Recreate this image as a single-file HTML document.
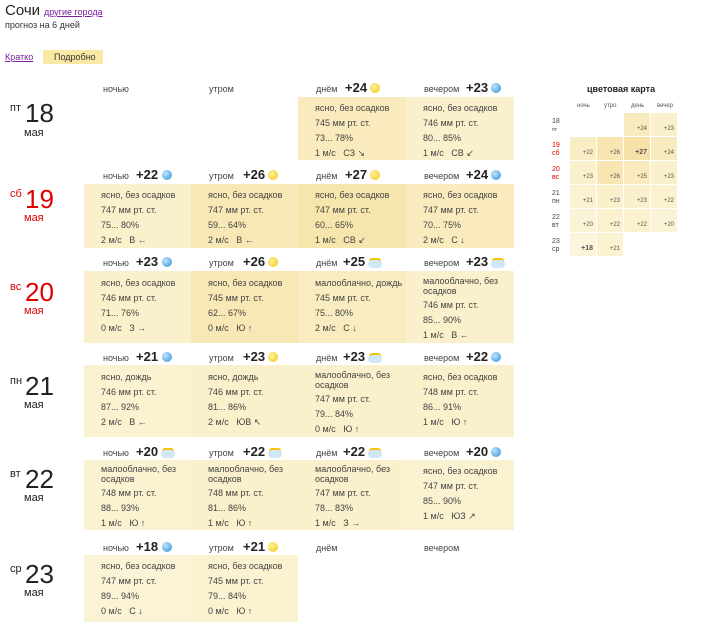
<!DOCTYPE html>
<html><head><meta charset="utf-8"><style>
body{margin:0;background:#fff;font-family:"Liberation Sans","DejaVu Sans",sans-serif;color:#333;}
#r{position:relative;width:707px;height:640px;overflow:hidden}
.a{position:absolute;white-space:nowrap}
.p{position:absolute}
.s{font-size:9px;color:#444}
.h{font-size:9px;color:#444}
.t{font-size:13px;font-weight:bold;color:#222}
.ic{position:absolute;width:10px;height:10px;border-radius:50%}
.sun{background:radial-gradient(circle at 40% 40%,#fff3a0,#f5c400)}
.moon{background:radial-gradient(circle at 35% 35%,#bfe4ff,#2b8fd6)}
.cl{width:14px;height:8px;border-radius:6px;background:#cfe7f7;box-shadow:0 -3px 0 -1px #f5c400}
.dn{font-size:26px;color:#222}
.dw{font-size:11px;color:#222}
.red{color:#e00000}
.mc{position:absolute;width:26px;height:23px}
.mt{font-size:6px;color:#555;position:absolute;right:3px;bottom:4px}
</style></head><body><div id="r">
<div class="a" style="left:5px;top:2px;font-size:15px;color:#222">Сочи</div>
<div class="a" style="left:44px;top:7px;font-size:9px;color:#7a1fa0;text-decoration:underline">другие города</div>
<div class="a" style="left:5px;top:20px;font-size:9px;color:#333">прогноз на 6 дней</div>
<div class="a" style="left:5px;top:52px;font-size:9px;color:#7a1fa0;text-decoration:underline">Кратко</div>
<div class="p" style="left:43px;top:50px;width:60px;height:14px;background:#fae8a5"></div>
<div class="a" style="left:54px;top:52px;font-size:9px;color:#333">Подробно</div>

<div class="p" style="left:298px;top:97px;width:108px;height:63px;background:#f9ebbd"></div>
<div class="p" style="left:406px;top:97px;width:108px;height:63px;background:#faf0cc"></div>

<div class="p" style="left:84px;top:184px;width:107px;height:64px;background:#faf0cc"></div>
<div class="p" style="left:191px;top:184px;width:107px;height:64px;background:#f8e8b6"></div>
<div class="p" style="left:298px;top:184px;width:108px;height:64px;background:#f7e5ae"></div>
<div class="p" style="left:406px;top:184px;width:108px;height:64px;background:#f9ebbd"></div>

<div class="p" style="left:84px;top:271px;width:107px;height:72px;background:#faf0cc"></div>
<div class="p" style="left:191px;top:271px;width:107px;height:72px;background:#f8e8b6"></div>
<div class="p" style="left:298px;top:271px;width:108px;height:72px;background:#f9ecc0"></div>
<div class="p" style="left:406px;top:271px;width:108px;height:72px;background:#faf0cc"></div>

<div class="p" style="left:84px;top:365px;width:107px;height:72px;background:#fbf2d2"></div>
<div class="p" style="left:191px;top:365px;width:107px;height:72px;background:#faf0cc"></div>
<div class="p" style="left:298px;top:365px;width:108px;height:72px;background:#faf0cc"></div>
<div class="p" style="left:406px;top:365px;width:108px;height:72px;background:#faf0cc"></div>

<div class="p" style="left:84px;top:460px;width:107px;height:70px;background:#fbf2d2"></div>
<div class="p" style="left:191px;top:460px;width:107px;height:70px;background:#faf0cc"></div>
<div class="p" style="left:298px;top:460px;width:108px;height:70px;background:#faf0cc"></div>
<div class="p" style="left:406px;top:460px;width:108px;height:70px;background:#fbf2d2"></div>

<div class="p" style="left:84px;top:555px;width:107px;height:67px;background:#fbf3d6"></div>
<div class="p" style="left:191px;top:555px;width:107px;height:67px;background:#fbf2d2"></div>

<div class="a dw" style="left:10px;top:102px">пт</div><div class="a dn" style="left:25px;top:98px">18</div><div class="a dw" style="left:24px;top:127px">мая</div>
<div class="a dw red" style="left:10px;top:188px">сб</div><div class="a dn red" style="left:25px;top:184px">19</div><div class="a dw red" style="left:24px;top:212px">мая</div>
<div class="a dw red" style="left:10px;top:281px">вс</div><div class="a dn red" style="left:25px;top:277px">20</div><div class="a dw red" style="left:24px;top:305px">мая</div>
<div class="a dw" style="left:10px;top:375px">пн</div><div class="a dn" style="left:25px;top:371px">21</div><div class="a dw" style="left:24px;top:399px">мая</div>
<div class="a dw" style="left:10px;top:468px">вт</div><div class="a dn" style="left:25px;top:464px">22</div><div class="a dw" style="left:24px;top:492px">мая</div>
<div class="a dw" style="left:10px;top:563px">ср</div><div class="a dn" style="left:25px;top:559px">23</div><div class="a dw" style="left:24px;top:587px">мая</div>

<div class="a h" style="left:103px;top:84px">ночью</div>
<div class="a h" style="left:209px;top:84px">утром</div>
<div class="a h" style="left:316px;top:84px">днём</div><div class="a t" style="left:345px;top:80px">+24</div><div class="ic sun" style="left:370px;top:83px"></div>
<div class="a h" style="left:424px;top:84px">вечером</div><div class="a t" style="left:466px;top:80px">+23</div><div class="ic moon" style="left:491px;top:83px"></div>
<div class="a s" style="left:315px;top:101px;line-height:15px">ясно, без осадков<br>745 мм рт. ст.<br>73... 78%<br>1 м/с&nbsp;&nbsp; СЗ ↘</div>
<div class="a s" style="left:423px;top:101px;line-height:15px">ясно, без осадков<br>746 мм рт. ст.<br>80... 85%<br>1 м/с&nbsp;&nbsp; СВ ↙</div>

<div class="a h" style="left:103px;top:171px">ночью</div><div class="a t" style="left:136px;top:167px">+22</div><div class="ic moon" style="left:162px;top:170px"></div>
<div class="a h" style="left:209px;top:171px">утром</div><div class="a t" style="left:243px;top:167px">+26</div><div class="ic sun" style="left:268px;top:170px"></div>
<div class="a h" style="left:316px;top:171px">днём</div><div class="a t" style="left:345px;top:167px">+27</div><div class="ic sun" style="left:370px;top:170px"></div>
<div class="a h" style="left:424px;top:171px">вечером</div><div class="a t" style="left:466px;top:167px">+24</div><div class="ic moon" style="left:491px;top:170px"></div>
<div class="a s" style="left:101px;top:188px;line-height:15px">ясно, без осадков<br>747 мм рт. ст.<br>75... 80%<br>2 м/с&nbsp;&nbsp; В ←</div>
<div class="a s" style="left:208px;top:188px;line-height:15px">ясно, без осадков<br>747 мм рт. ст.<br>59... 64%<br>2 м/с&nbsp;&nbsp; В ←</div>
<div class="a s" style="left:315px;top:188px;line-height:15px">ясно, без осадков<br>747 мм рт. ст.<br>60... 65%<br>1 м/с&nbsp;&nbsp; СВ ↙</div>
<div class="a s" style="left:423px;top:188px;line-height:15px">ясно, без осадков<br>747 мм рт. ст.<br>70... 75%<br>2 м/с&nbsp;&nbsp; С ↓</div>

<div class="a h" style="left:103px;top:258px">ночью</div><div class="a t" style="left:136px;top:254px">+23</div><div class="ic moon" style="left:162px;top:257px"></div>
<div class="a h" style="left:209px;top:258px">утром</div><div class="a t" style="left:243px;top:254px">+26</div><div class="ic sun" style="left:268px;top:257px"></div>
<div class="a h" style="left:316px;top:258px">днём</div><div class="a t" style="left:343px;top:254px">+25</div><div class="ic cl" style="left:368px;top:260px"></div>
<div class="a h" style="left:424px;top:258px">вечером</div><div class="a t" style="left:466px;top:254px">+23</div><div class="ic cl" style="left:491px;top:260px"></div>
<div class="a s" style="left:101px;top:276px;line-height:15px">ясно, без осадков<br>746 мм рт. ст.<br>71... 76%<br>0 м/с&nbsp;&nbsp; З →</div>
<div class="a s" style="left:208px;top:276px;line-height:15px">ясно, без осадков<br>745 мм рт. ст.<br>62... 67%<br>0 м/с&nbsp;&nbsp; Ю ↑</div>
<div class="a s" style="left:315px;top:276px;line-height:15px">малооблачно, дождь<br>745 мм рт. ст.<br>75... 80%<br>2 м/с&nbsp;&nbsp; С ↓</div>
<div class="a s" style="left:423px;top:276px;line-height:10px">малооблачно, без<br>осадков</div>
<div class="a s" style="left:423px;top:298px;line-height:15px">746 мм рт. ст.<br>85... 90%<br>1 м/с&nbsp;&nbsp; В ←</div>

<div class="a h" style="left:103px;top:353px">ночью</div><div class="a t" style="left:136px;top:349px">+21</div><div class="ic moon" style="left:162px;top:352px"></div>
<div class="a h" style="left:209px;top:353px">утром</div><div class="a t" style="left:243px;top:349px">+23</div><div class="ic sun" style="left:268px;top:352px"></div>
<div class="a h" style="left:316px;top:353px">днём</div><div class="a t" style="left:343px;top:349px">+23</div><div class="ic cl" style="left:368px;top:355px"></div>
<div class="a h" style="left:424px;top:353px">вечером</div><div class="a t" style="left:466px;top:349px">+22</div><div class="ic moon" style="left:491px;top:352px"></div>
<div class="a s" style="left:101px;top:370px;line-height:15px">ясно, дождь<br>746 мм рт. ст.<br>87... 92%<br>2 м/с&nbsp;&nbsp; В ←</div>
<div class="a s" style="left:208px;top:370px;line-height:15px">ясно, дождь<br>746 мм рт. ст.<br>81... 86%<br>2 м/с&nbsp;&nbsp; ЮВ ↖</div>
<div class="a s" style="left:315px;top:370px;line-height:10px">малооблачно, без<br>осадков</div>
<div class="a s" style="left:315px;top:392px;line-height:15px">747 мм рт. ст.<br>79... 84%<br>0 м/с&nbsp;&nbsp; Ю ↑</div>
<div class="a s" style="left:423px;top:370px;line-height:15px">ясно, без осадков<br>748 мм рт. ст.<br>86... 91%<br>1 м/с&nbsp;&nbsp; Ю ↑</div>

<div class="a h" style="left:103px;top:448px">ночью</div><div class="a t" style="left:136px;top:444px">+20</div><div class="ic cl" style="left:161px;top:450px"></div>
<div class="a h" style="left:209px;top:448px">утром</div><div class="a t" style="left:243px;top:444px">+22</div><div class="ic cl" style="left:268px;top:450px"></div>
<div class="a h" style="left:316px;top:448px">днём</div><div class="a t" style="left:343px;top:444px">+22</div><div class="ic cl" style="left:368px;top:450px"></div>
<div class="a h" style="left:424px;top:448px">вечером</div><div class="a t" style="left:466px;top:444px">+20</div><div class="ic moon" style="left:491px;top:447px"></div>
<div class="a s" style="left:101px;top:464px;line-height:10px">малооблачно, без<br>осадков</div>
<div class="a s" style="left:101px;top:486px;line-height:15px">748 мм рт. ст.<br>88... 93%<br>1 м/с&nbsp;&nbsp; Ю ↑</div>
<div class="a s" style="left:208px;top:464px;line-height:10px">малооблачно, без<br>осадков</div>
<div class="a s" style="left:208px;top:486px;line-height:15px">748 мм рт. ст.<br>81... 86%<br>1 м/с&nbsp;&nbsp; Ю ↑</div>
<div class="a s" style="left:315px;top:464px;line-height:10px">малооблачно, без<br>осадков</div>
<div class="a s" style="left:315px;top:486px;line-height:15px">747 мм рт. ст.<br>78... 83%<br>1 м/с&nbsp;&nbsp; З →</div>
<div class="a s" style="left:423px;top:464px;line-height:15px">ясно, без осадков<br>747 мм рт. ст.<br>85... 90%<br>1 м/с&nbsp;&nbsp; ЮЗ ↗</div>

<div class="a h" style="left:103px;top:543px">ночью</div><div class="a t" style="left:136px;top:539px">+18</div><div class="ic moon" style="left:162px;top:542px"></div>
<div class="a h" style="left:209px;top:543px">утром</div><div class="a t" style="left:243px;top:539px">+21</div><div class="ic sun" style="left:268px;top:542px"></div>
<div class="a h" style="left:316px;top:543px">днём</div>
<div class="a h" style="left:424px;top:543px">вечером</div>
<div class="a s" style="left:101px;top:559px;line-height:15px">ясно, без осадков<br>747 мм рт. ст.<br>89... 94%<br>0 м/с&nbsp;&nbsp; С ↓</div>
<div class="a s" style="left:208px;top:559px;line-height:15px">ясно, без осадков<br>745 мм рт. ст.<br>79... 84%<br>0 м/с&nbsp;&nbsp; Ю ↑</div>

<div class="a" style="left:587px;top:84px;font-size:9px;font-weight:bold;color:#222">цветовая карта</div>
<div class="a" style="left:577px;top:103px;font-size:6px;color:#555">ночь</div>
<div class="a" style="left:604px;top:103px;font-size:6px;color:#555">утро</div>
<div class="a" style="left:631px;top:103px;font-size:6px;color:#555">день</div>
<div class="a" style="left:657px;top:103px;font-size:6px;color:#555">вечер</div>
<div class="a" style="left:552px;top:118px;font-size:7px;color:#444;line-height:8px">18<br><span style="font-size:5px">пт</span></div>
<div class="a" style="left:552px;top:142px;font-size:7px;color:#e00000;line-height:8px">19<br>сб</div>
<div class="a" style="left:552px;top:166px;font-size:7px;color:#e00000;line-height:8px">20<br>вс</div>
<div class="a" style="left:552px;top:190px;font-size:7px;color:#444;line-height:8px">21<br>пн</div>
<div class="a" style="left:552px;top:214px;font-size:7px;color:#444;line-height:8px">22<br>вт</div>
<div class="a" style="left:552px;top:238px;font-size:7px;color:#444;line-height:8px">23<br>ср</div>

<div class="mc" style="left:624px;top:113px;background:#f8ebbf"><span class="mt">+24</span></div>
<div class="mc" style="left:651px;top:113px;background:#faf0cc"><span class="mt">+23</span></div>
<div class="mc" style="left:570px;top:137px;background:#f9edc4"><span class="mt">+22</span></div>
<div class="mc" style="left:597px;top:137px;background:#f7e6b2"><span class="mt">+26</span></div>
<div class="mc" style="left:624px;top:137px;background:#f6e2a8"><span class="mt" style="font-weight:bold;font-size:7px">+27</span></div>
<div class="mc" style="left:651px;top:137px;background:#f8ebbf"><span class="mt">+24</span></div>
<div class="mc" style="left:570px;top:161px;background:#faf0cc"><span class="mt">+23</span></div>
<div class="mc" style="left:597px;top:161px;background:#f7e6b2"><span class="mt">+26</span></div>
<div class="mc" style="left:624px;top:161px;background:#f9ebbd"><span class="mt">+25</span></div>
<div class="mc" style="left:651px;top:161px;background:#faf0cc"><span class="mt">+23</span></div>
<div class="mc" style="left:570px;top:185px;background:#fbf2d2"><span class="mt">+21</span></div>
<div class="mc" style="left:597px;top:185px;background:#faf0cc"><span class="mt">+23</span></div>
<div class="mc" style="left:624px;top:185px;background:#faf0cc"><span class="mt">+23</span></div>
<div class="mc" style="left:651px;top:185px;background:#fbf1cf"><span class="mt">+22</span></div>
<div class="mc" style="left:570px;top:209px;background:#fbf3d6"><span class="mt">+20</span></div>
<div class="mc" style="left:597px;top:209px;background:#fbf1cf"><span class="mt">+22</span></div>
<div class="mc" style="left:624px;top:209px;background:#fbf1cf"><span class="mt">+22</span></div>
<div class="mc" style="left:651px;top:209px;background:#fbf3d6"><span class="mt">+20</span></div>
<div class="mc" style="left:570px;top:233px;background:#fcf5dc"><span class="mt" style="font-weight:bold;font-size:7px">+18</span></div>
<div class="mc" style="left:597px;top:233px;background:#fbf2d2"><span class="mt">+21</span></div>
</div></body></html>
